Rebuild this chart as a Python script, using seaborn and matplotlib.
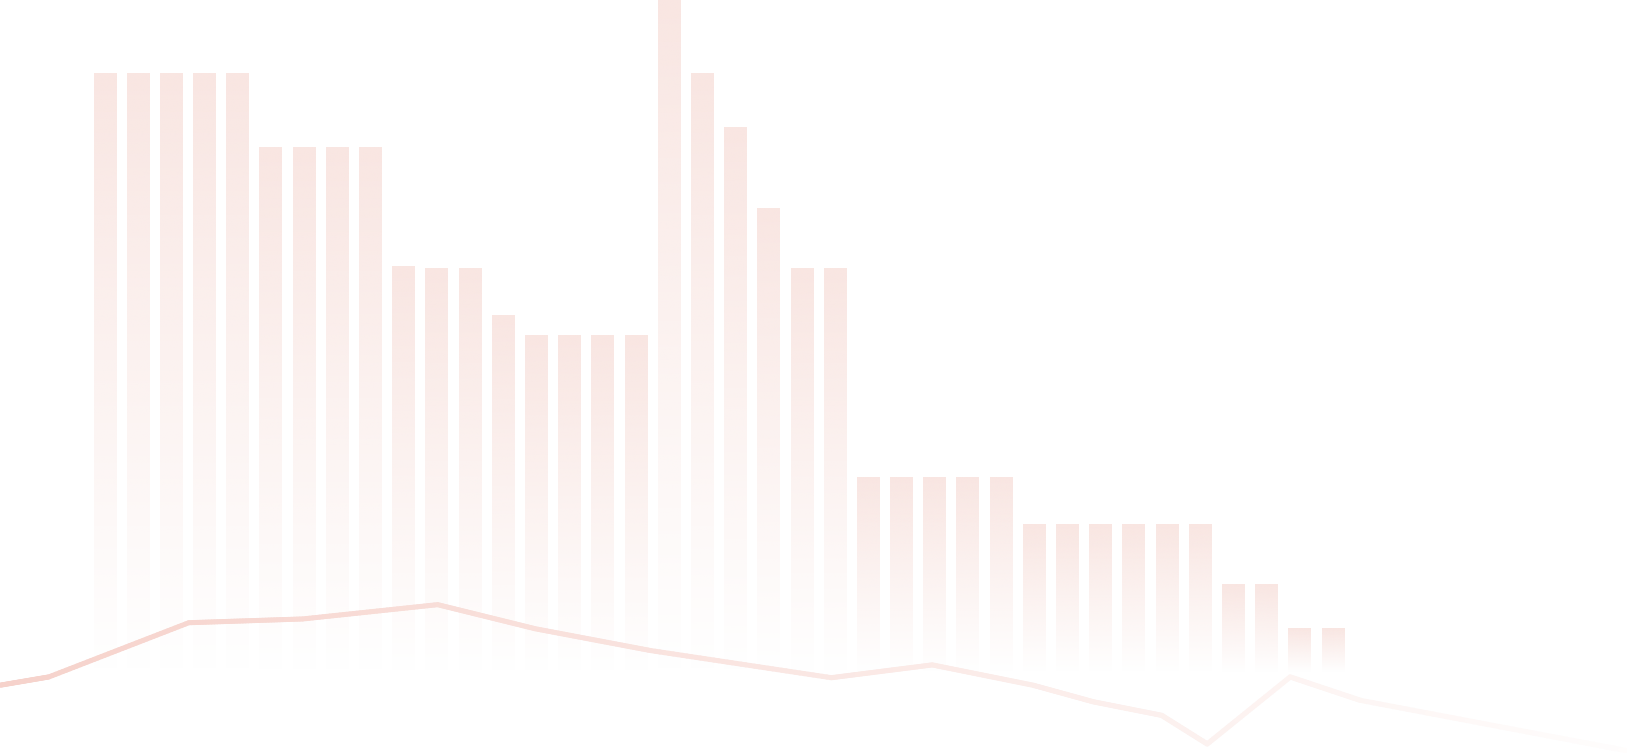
import numpy as np
import pandas as pd
import seaborn as sns
import matplotlib.pyplot as plt
from matplotlib.collections import LineCollection
from matplotlib.colors import to_rgb

# bar heights (0-100 scale), one per category
bar_values = [89, 89, 89, 89, 89, 78, 78, 78, 78, 60.3, 60, 60, 53, 50, 50, 50, 50,
              100, 89, 81, 69, 60, 60, 29, 29, 29, 29, 29,
              22, 22, 22, 22, 22, 22, 13, 13, 6.4, 6.4]
bar_index = list(range(len(bar_values)))

# trend line (x in % of width, y in % of height)
line_x = [0, 3.0, 11.6, 18.6, 26.9, 32.9, 40.0, 51.1, 57.3, 63.5, 67.2, 71.4, 74.2, 79.3, 83.6, 100]
line_y = [9.0, 10.1, 17.3, 17.8, 19.7, 16.5, 13.6, 10.0, 11.7, 9.0, 6.8, 5.0, 1.2, 10.1, 7.0, 0.3]

bar_color = to_rgb('#f9e6e2')
line_color = to_rgb('#f6d2cb')

sns.set_theme(style='white')
fig = plt.figure(figsize=(16.27, 7.53), dpi=100)
ax = fig.add_axes([0, 0, 1, 1])

df = pd.DataFrame({'idx': bar_index, 'value': bar_values})
sns.barplot(data=df, x='idx', y='value', ax=ax, width=0.69, color=bar_color)

# replace flat fills with vertical fade (solid at top, clear at bottom)
grad = np.zeros((256, 1, 4))
grad[:, 0, :3] = bar_color
grad[:, 0, 3] = np.linspace(0, 1, 256)
for p in ax.patches:
    x0, y0 = p.get_x(), p.get_y()
    w, h = p.get_width(), p.get_height()
    p.set_facecolor('none')
    p.set_edgecolor('none')
    ax.imshow(grad, extent=[x0, x0 + w, y0, y0 + h], origin='lower',
              aspect='auto', interpolation='bilinear', zorder=2)

ax.set_xlim(-3.164, 45.86)
ax.set_ylim(-12.05, 100)
ax.axis('off')

# line on its own full-size axes
ax2 = fig.add_axes([0, 0, 1, 1])
ax2.patch.set_alpha(0)
sns.lineplot(x=line_x, y=line_y, ax=ax2, sort=False)
xy = ax2.lines[0].get_xydata()
ax2.lines[0].remove()

pts = []
for (xa, ya), (xb, yb) in zip(xy[:-1], xy[1:]):
    t = np.linspace(0, 1, 40, endpoint=False)
    pts.append(np.column_stack([xa + (xb - xa) * t, ya + (yb - ya) * t]))
pts.append(xy[-1:])
pts = np.vstack(pts)
segs = np.stack([pts[:-1], pts[1:]], axis=1)
mid = segs[:, :, 0].mean(axis=1)
a = 1 - 0.95 * (mid / 100)
cols = np.ones((len(segs), 3)) * (1 - a[:, None]) + np.array(line_color) * a[:, None]
lc = LineCollection(segs, colors=cols, linewidths=3.6, capstyle='round', joinstyle='round')
ax2.add_collection(lc)
ax2.set_xlim(0, 100)
ax2.set_ylim(0, 100)
ax2.axis('off')

fig.savefig('out.png', dpi=100)
